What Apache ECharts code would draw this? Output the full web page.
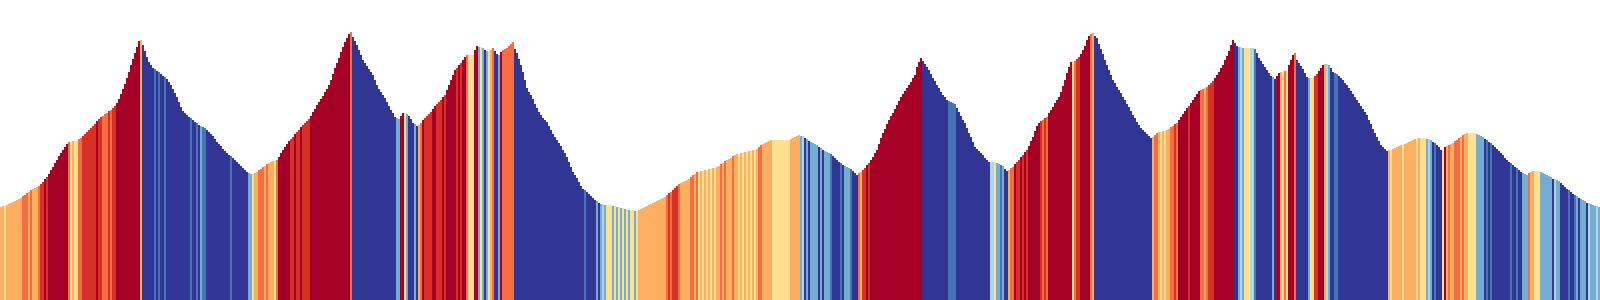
<!DOCTYPE html>
<html>
<head>
<meta charset="utf-8">
<script src="https://cdn.jsdelivr.net/npm/echarts@6/dist/echarts.min.js"></script>
<style>
  html, body { margin: 0; padding: 0; background: #ffffff; }
  #chart { width: 1600px; height: 300px; }
</style>
</head>
<body>
<div id="chart"></div>
<script>
// Elevation profile, one value per 2px sample along the route (height above chart bottom)
const elevation = [
  93,94,94,95,96,97,98,99,100,101,
  102,104,105,107,108,110,111,112,113,114,
  116,118,121,123,126,130,133,137,140,144,
  147,150,153,156,158,158,159,159,159,161,
  162,164,166,168,170,172,174,176,179,181,
  183,184,186,187,189,190,192,194,197,201,
  206,211,216,222,228,235,241,247,253,259,
  260,255,249,243,238,235,232,231,229,228,
  226,224,223,221,218,215,211,207,203,198,
  193,189,187,185,183,182,180,178,177,175,
  174,173,172,170,168,166,164,161,158,156,
  154,151,149,147,145,144,142,140,138,136,
  134,132,130,128,127,126,126,127,128,130,
  131,133,134,136,137,138,139,139,140,143,
  147,150,153,156,159,161,163,166,168,170,
  173,175,177,179,181,184,188,191,195,198,
  201,204,208,211,215,220,226,232,237,242,
  248,253,258,262,266,268,263,259,255,250,
  245,240,237,234,231,228,225,220,215,211,
  208,205,202,198,194,190,187,183,182,181,
  184,187,187,186,184,181,177,176,174,175,
  177,180,182,184,186,188,191,194,196,198,
  200,203,205,210,215,220,225,230,232,235,
  237,240,243,245,245,245,245,250,254,253,
  253,252,250,249,249,250,252,249,246,245,
  248,250,251,252,254,256,258,251,247,241,
  235,228,220,212,208,205,201,196,192,188,
  185,182,180,178,174,170,166,163,160,157,
  154,150,147,143,138,133,128,125,122,118,
  114,111,110,108,106,104,102,100,99,97,
  96,96,95,95,95,95,94,94,93,93,
  92,92,91,91,90,90,90,89,89,90,
  91,92,93,94,95,96,97,98,99,100,
  101,102,103,105,107,108,110,112,114,116,
  117,118,119,120,121,123,125,126,128,128,
  129,129,130,130,131,131,132,132,133,134,
  136,137,139,140,141,142,144,145,146,146,
  147,147,148,148,149,149,150,150,151,153,
  155,156,157,158,159,160,160,160,160,160,
  160,160,160,160,160,161,162,163,164,165,
  164,164,162,161,159,158,157,156,155,153,
  152,150,149,148,147,146,144,142,140,138,
  137,135,134,133,132,131,129,127,125,127,
  128,130,132,135,137,140,143,147,150,156,
  162,167,171,176,180,184,187,191,195,199,
  203,206,209,212,215,218,222,225,233,238,
  242,239,236,233,230,226,222,219,215,212,
  208,205,203,200,199,198,197,196,192,188,
  184,180,177,172,167,163,158,153,151,149,
  147,145,142,140,138,138,138,138,137,136,
  135,134,131,129,130,132,133,136,138,140,
  143,145,148,150,154,159,163,169,174,177,
  179,180,182,183,187,190,193,197,200,203,
  208,214,220,227,233,238,238,239,241,243,
  246,250,254,260,264,266,267,264,262,256,
  251,246,240,235,230,225,220,217,213,210,
  207,203,200,196,193,189,185,182,178,175,
  172,170,168,166,164,162,163,165,167,168,
  168,169,169,170,171,173,174,176,177,180,
  183,186,189,192,194,197,200,203,206,209,
  210,211,212,213,215,217,219,222,225,228,
  232,235,240,244,249,255,260,257,254,253,
  253,252,252,252,252,252,252,251,247,242,
  239,236,233,230,227,224,223,221,224,227,
  228,228,229,229,235,240,245,247,240,237,
  234,231,227,223,222,222,222,224,226,229,
  232,235,236,236,235,232,228,227,226,224,
  222,220,217,215,212,209,206,203,200,197,
  194,191,188,185,180,176,171,167,163,159,
  155,153,151,149,150,150,151,152,153,154,
  155,155,156,157,158,159,160,161,161,162,
  162,162,162,161,161,160,158,157,155,153,
  150,150,153,154,155,156,157,159,160,162,
  163,165,166,167,167,167,167,167,166,165,
  164,163,161,160,158,157,155,153,151,149,
  147,145,142,140,138,137,135,133,132,130,
  128,127,126,125,127,128,129,129,129,129,
  128,127,126,125,124,123,121,121,120,119,
  117,115,113,111,110,108,106,105,104,102,
  101,100,99,97,97,96,95,94,94,93
];

// Sample index along the route (category axis)
const distance = elevation.map((_, i) => i);

// RdYlBu grade palette
const palette = {
  steepUp: '#a50026', up: '#d73027', upMid: '#f46d43', gentleUp: '#fdae61',
  flatUp: '#fee090', flatDown: '#abd9e9', gentleDown: '#74add1',
  down: '#4575b4', steepDown: '#313695'
};

const n = elevation.length;
function step(i) {
  return i === 0 ? elevation[1] - elevation[0] : elevation[i] - elevation[i - 1];
}
function trend(i) {
  const a = Math.max(0, i - 3), b = Math.min(n - 1, i + 3);
  return (elevation[b] - elevation[a]) / (b - a);
}
function colorFor(i) {
  const s = step(i), t = trend(i);
  if (s >= 3) return palette.steepUp;
  if (s === 2) return t < 1.6 ? palette.upMid : palette.up;
  if (s === 1) return t >= 1.5 ? palette.upMid : palette.gentleUp;
  if (s === 0) return t < -0.5 ? palette.flatDown : palette.flatUp;
  if (s === -1) return t <= -1.5 ? palette.down : palette.gentleDown;
  return palette.steepDown;
}

const chart = echarts.init(document.getElementById('chart'), null, { renderer: 'canvas' });
chart.setOption({
  animation: false,
  backgroundColor: '#ffffff',
  grid: { left: 0, right: 0, top: 0, bottom: 0, containLabel: false },
  xAxis: {
    type: 'category',
    data: distance,
    boundaryGap: true,
    show: false
  },
  yAxis: {
    type: 'value',
    min: 0,
    max: 300,
    show: false
  },
  series: [{
    type: 'bar',
    data: elevation,
    barWidth: '100%',
    barCategoryGap: '0%',
    itemStyle: {
      color: (p) => colorFor(p.dataIndex)
    }
  }]
});
</script>
</body>
</html>
